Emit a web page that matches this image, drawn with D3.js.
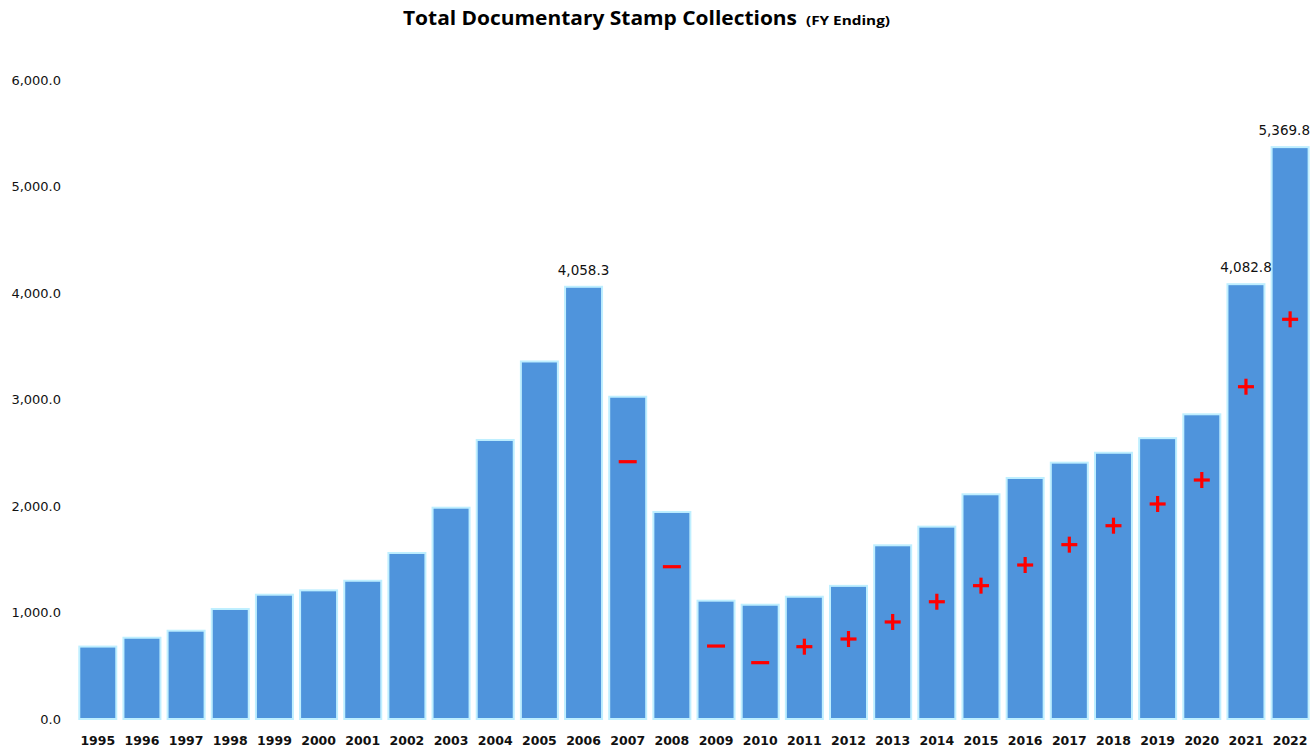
<!DOCTYPE html>
<html>
<head>
<meta charset="utf-8">
<script src="https://cdn.jsdelivr.net/npm/d3@7"></script>
<style>
  html, body { margin: 0; padding: 0; background: #fff; }
  svg { display: block; }
</style>
</head>
<body>
<svg id="chart" width="1315" height="751"></svg>
<script>
const years = ["1995","1996","1997","1998","1999","2000","2001","2002","2003","2004","2005","2006","2007","2008","2009","2010","2011","2012","2013","2014","2015","2016","2017","2018","2019","2020","2021","2022"];
const collections = [680, 763, 829, 1033, 1167, 1208, 1298, 1559, 1984, 2620, 3357, 4058.3, 3026, 1944, 1111, 1073, 1148, 1250, 1631, 1806, 2110, 2263, 2407, 2500, 2637, 2861, 4082.8, 5369.8];
const labelledYears = ["2006", "2021", "2022"];
const markerSigns = ["","","","","","","","","","","","","-","-","-","-","+","+","+","+","+","+","+","+","+","+","+","+"];
const markerValues = [null,null,null,null,null,null,null,null,null,null,null,null,2416,1430,685,529,679,751,911,1101,1252,1446,1637,1815,2019,2244,3120,3753];
const yTicks = [0, 1000, 2000, 3000, 4000, 5000, 6000];
const titleMain = "Total Documentary Stamp Collections";
const titleSub = "(FY Ending)";

const svg = d3.select("#chart");

const x = d3.scaleBand().domain(years).range([75.7, 1312.2]).paddingInner(0.117).paddingOuter(0.0585);
const y = d3.scaleLinear().domain([0, 6000]).range([719, 80]);
const fmt = d3.format(",.1f");

// Title
const t = svg.append("text").attr("y", 25).attr("font-family", "Open Sans, sans-serif").attr("font-weight", "bold").attr("fill", "#000");
t.append("tspan").attr("x", 403).attr("font-size", 19).attr("textLength", 394).attr("lengthAdjust", "spacingAndGlyphs").text(titleMain);
t.append("tspan").attr("x", 806).attr("font-size", 13).attr("textLength", 84).attr("lengthAdjust", "spacingAndGlyphs").text(titleSub);

// Y axis
const yAxis = svg.append("g").attr("transform", "translate(61,0)")
  .call(d3.axisLeft(y).tickValues(yTicks).tickFormat(fmt).tickSize(0).tickPadding(0));
yAxis.select(".domain").remove();
yAxis.selectAll("text").attr("font-family", "DejaVu Sans, Verdana, sans-serif").attr("font-size", 13).attr("fill", "#111");

// X axis
const xAxis = svg.append("g").attr("transform", "translate(0,736)")
  .call(d3.axisBottom(x).tickSize(0).tickPadding(0));
xAxis.select(".domain").remove();
xAxis.selectAll("text").attr("font-family", "DejaVu Sans, Verdana, sans-serif").attr("font-size", 12.5).attr("font-weight", "bold").attr("fill", "#111");

// Bars
const data = years.map((yr, i) => ({ year: yr, value: collections[i], sign: markerSigns[i], mv: markerValues[i] }));
svg.append("g").selectAll("rect").data(data).join("rect")
  .attr("x", d => x(d.year) + 1)
  .attr("y", d => y(d.value))
  .attr("width", x.bandwidth() - 2)
  .attr("height", d => y(0) - y(d.value))
  .attr("fill", "#4F94DC")
  .attr("stroke", "#BFEFFF")
  .attr("stroke-width", 2);

// Value labels
const lbl = svg.append("g").selectAll("text").data(data.filter(d => labelledYears.includes(d.year))).join("text")
  .attr("x", d => x(d.year) + x.bandwidth() / 2)
  .attr("y", d => y(d.value) - 12)
  .attr("text-anchor", "middle")
  .attr("font-family", "DejaVu Sans, Verdana, sans-serif")
  .attr("font-size", 13.5)
  .attr("fill", "#111")
  .text(d => fmt(d.value));
lbl.each(function() {
  const w = this.getComputedTextLength();
  const cx = +this.getAttribute("x");
  if (cx + w / 2 > 1310) this.setAttribute("x", 1310 - w / 2);
});

// Markers
const mk = svg.append("g").selectAll("g").data(data.filter(d => d.sign)).join("g")
  .attr("transform", d => `translate(${x(d.year) + x.bandwidth() / 2},${y(d.mv)})`);
mk.append("rect").attr("x", -9).attr("y", -1.6).attr("width", 18).attr("height", 3.2).attr("fill", "#FF0000");
mk.filter(d => d.sign === "+").append("rect").attr("x", -1.6).attr("y", -8).attr("width", 3.2).attr("height", 16).attr("fill", "#FF0000");
mk.filter(d => d.sign === "+").select("rect").attr("x", -8).attr("width", 16);
</script>
</body>
</html>
